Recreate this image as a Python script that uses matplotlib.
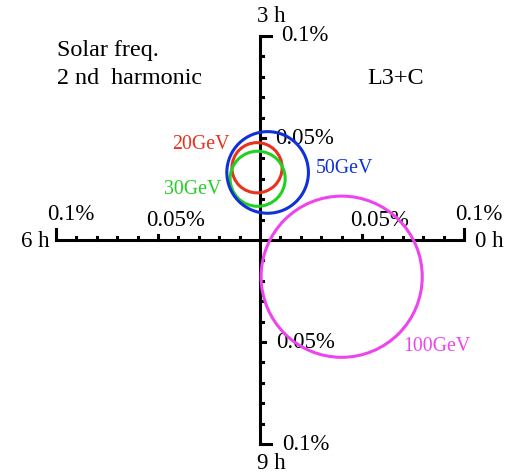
import numpy as np
import matplotlib.pyplot as plt
from matplotlib.patches import Circle

# harmonic vectors, amplitude in %
labels = ["20GeV", "30GeV", "50GeV", "100GeV"]
cx = [-0.0015, -0.0012, 0.0037, 0.0400]
cy = [0.0354, 0.0300, 0.0331, -0.0180]
radius = [0.0123, 0.0135, 0.0200, 0.0395]
colors = ["#e8321e", "#22d022", "#1030d8", "#ee44ee"]

tick_vals = np.arange(-0.1, 0.1001, 0.01)


def pix(px, py):
    # picture pixel -> dial units (% amplitude), text nudged down a bit
    return (px - 260) / 2040.0, (240 - py - 2) / 2040.0


label_pix = [(172, 143), (164, 188), (316, 167), (403, 344)]

plt.rcParams['font.family'] = ['Liberation Serif', 'DejaVu Serif']
fig = plt.figure(figsize=(5.12, 4.72), dpi=100)
ax = fig.add_axes([0, 0, 1, 1])
ax.set_xlim(-0.1275, 0.1235)
ax.set_ylim(-0.1137, 0.1176)
ax.axis('off')

lw = 2.2
k = dict(color='black', lw=lw, solid_capstyle='projecting', zorder=3)
ax.plot([-0.1, 0.1], [0, 0], **k)
ax.plot([0, 0], [-0.1, 0.1], **k)
for t in tick_vals:
    if abs(t) < 1e-9:
        continue
    big = abs(abs(t) - 0.05) < 1e-6
    L = 0.0025 if big else 0.0013
    if abs(abs(t) - 0.1) < 1e-6:
        L = 0.0055
    ax.plot([t, t], [0, L], **k)
    ax.plot([0, L], [t, t], **k)

for x, y, r, c in zip(cx, cy, radius, colors):
    ax.add_patch(Circle((x, y), r, fill=False, ec=c, lw=2.2, zorder=4))
for (px, py), lab, c in zip(label_pix, labels, colors):
    ax.text(*pix(px, py), lab, color=c, fontsize=14.3, ha='left', va='center', zorder=5)

fs = 16.5
ax.text(*pix(281, 34), "0.1%", fontsize=fs, ha='left', va='center')
ax.text(*pix(275, 137), "0.05%", fontsize=fs, ha='left', va='center')
ax.text(*pix(276, 340), "0.05%", fontsize=fs, ha='left', va='center')
ax.text(*pix(282, 442), "0.1%", fontsize=fs, ha='left', va='center')
ax.text(*pix(71, 213), "0.1%", fontsize=fs, ha='center', va='center')
ax.text(*pix(175, 219), "0.05%", fontsize=fs, ha='center', va='center')
ax.text(*pix(379, 219), "0.05%", fontsize=fs, ha='center', va='center')
ax.text(*pix(479, 213), "0.1%", fontsize=fs, ha='center', va='center')
ax.text(*pix(50, 240), "6 h", fontsize=fs, ha='right', va='center')
ax.text(*pix(475, 240), "0 h", fontsize=fs, ha='left', va='center')
ax.text(*pix(257, 15), "3 h", fontsize=fs, ha='left', va='center')
ax.text(*pix(257, 461), "9 h", fontsize=fs, ha='left', va='center')
ax.text(*pix(57, 49), "Solar freq.", fontsize=17.4, ha='left', va='center')
ax.text(*pix(57, 77), "2 nd  harmonic", fontsize=17.4, ha='left', va='center')
ax.text(*pix(367, 77), "L3+C", fontsize=17.4, ha='left', va='center')

fig.savefig("out.png", dpi=100)
